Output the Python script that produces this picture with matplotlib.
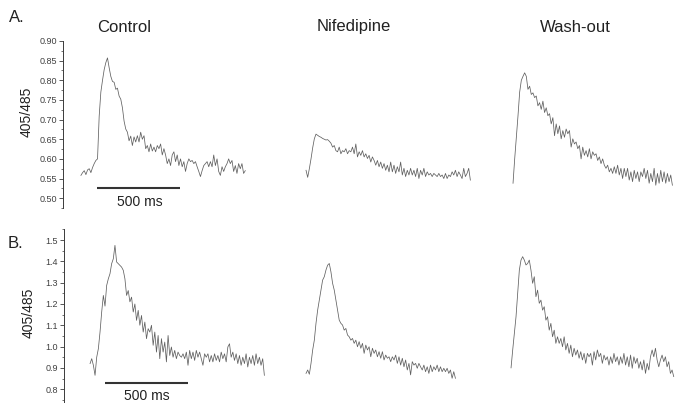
import matplotlib
matplotlib.use("Agg")
import matplotlib.pyplot as plt
import numpy as np
from matplotlib.ticker import FixedLocator, MultipleLocator, FormatStrFormatter

plt.rcParams['font.family'] = ['Liberation Sans', 'DejaVu Sans']

# ---------------- data ----------------
conditions = ["Control", "Nifedipine", "Wash-out"]
row_labels = ["A.", "B."]
ylabel = "405/485"
scale_label = "500 ms"
scale_ms = 500
dt_ms = 10

yticks_A = [0.50, 0.55, 0.60, 0.65, 0.70, 0.75, 0.80, 0.85, 0.90]
yticks_B = [0.8, 0.9, 1.0, 1.1, 1.2, 1.3, 1.4, 1.5]

control_A = [0.558, 0.565, 0.570, 0.560, 0.572, 0.575, 0.565, 0.578, 0.588, 0.596,
             0.600, 0.709, 0.770, 0.800, 0.827, 0.845, 0.857, 0.832, 0.810, 0.797,
             0.795, 0.777, 0.780, 0.760, 0.752, 0.730, 0.696, 0.676, 0.668, 0.646,
             0.658, 0.634, 0.656, 0.643, 0.659, 0.643, 0.668, 0.650, 0.659, 0.626,
             0.634, 0.618, 0.638, 0.620, 0.630, 0.618, 0.634, 0.626, 0.638, 0.610,
             0.626, 0.610, 0.588, 0.600, 0.583, 0.610, 0.618, 0.593, 0.610, 0.583,
             0.600, 0.580, 0.593, 0.568, 0.588, 0.600, 0.593, 0.596, 0.588, 0.593,
             0.580, 0.568, 0.555, 0.570, 0.583, 0.588, 0.593, 0.580, 0.593, 0.580,
             0.610, 0.583, 0.600, 0.568, 0.558, 0.580, 0.568, 0.580, 0.588, 0.600,
             0.588, 0.596, 0.568, 0.583, 0.563, 0.588, 0.575, 0.588, 0.563, 0.570]

nifedipine_A = [0.571, 0.553, 0.575, 0.600, 0.628, 0.651, 0.663, 0.660, 0.657, 0.655,
                0.652, 0.650, 0.648, 0.649, 0.645, 0.640, 0.630, 0.634, 0.621, 0.618,
                0.630, 0.613, 0.621, 0.618, 0.626, 0.613, 0.621, 0.618, 0.630, 0.613,
                0.638, 0.605, 0.618, 0.609, 0.621, 0.605, 0.613, 0.601, 0.609, 0.592,
                0.605, 0.596, 0.584, 0.596, 0.580, 0.592, 0.576, 0.588, 0.571, 0.584,
                0.567, 0.592, 0.567, 0.584, 0.563, 0.580, 0.567, 0.592, 0.559, 0.576,
                0.555, 0.571, 0.559, 0.576, 0.559, 0.571, 0.555, 0.576, 0.550, 0.571,
                0.559, 0.576, 0.555, 0.567, 0.559, 0.563, 0.555, 0.563, 0.559, 0.555,
                0.563, 0.555, 0.559, 0.550, 0.563, 0.550, 0.559, 0.555, 0.567, 0.559,
                0.571, 0.555, 0.567, 0.559, 0.550, 0.576, 0.555, 0.563, 0.576, 0.546]

washout_A = [0.538, 0.600, 0.655, 0.710, 0.770, 0.800, 0.810, 0.819, 0.810, 0.777,
             0.785, 0.764, 0.768, 0.756, 0.760, 0.735, 0.743, 0.726, 0.747, 0.718,
             0.730, 0.710, 0.715, 0.689, 0.705, 0.659, 0.689, 0.664, 0.684, 0.651,
             0.672, 0.655, 0.676, 0.664, 0.672, 0.630, 0.651, 0.638, 0.643, 0.626,
             0.634, 0.600, 0.630, 0.609, 0.621, 0.605, 0.626, 0.600, 0.618, 0.609,
             0.613, 0.596, 0.605, 0.588, 0.600, 0.584, 0.576, 0.584, 0.567, 0.576,
             0.563, 0.580, 0.563, 0.584, 0.559, 0.576, 0.550, 0.576, 0.555, 0.576,
             0.546, 0.567, 0.542, 0.571, 0.550, 0.567, 0.542, 0.567, 0.555, 0.576,
             0.550, 0.571, 0.538, 0.563, 0.542, 0.576, 0.533, 0.563, 0.538, 0.571,
             0.542, 0.567, 0.538, 0.563, 0.542, 0.559, 0.533]

control_B = [0.920, 0.943, 0.912, 0.865, 0.950, 0.990, 1.068, 1.162, 1.240, 1.190,
             1.287, 1.318, 1.342, 1.389, 1.412, 1.475, 1.397, 1.389, 1.381, 1.373,
             1.358, 1.318, 1.240, 1.263, 1.210, 1.232, 1.162, 1.200, 1.123, 1.170,
             1.100, 1.146, 1.068, 1.115, 1.037, 1.084, 1.068, 1.100, 1.006, 1.068,
             0.974, 1.052, 0.943, 1.037, 0.974, 1.021, 0.928, 1.052, 0.958, 0.998,
             0.950, 0.982, 0.943, 0.974, 0.958, 0.950, 0.966, 0.943, 0.974, 0.912,
             0.982, 0.943, 0.974, 0.935, 0.982, 0.950, 0.974, 0.943, 0.912, 0.966,
             0.950, 0.966, 0.928, 0.958, 0.928, 0.966, 0.935, 0.958, 0.928, 0.974,
             0.943, 0.966, 0.928, 0.998, 1.013, 0.950, 0.974, 0.935, 0.966, 0.920,
             0.958, 0.912, 0.950, 0.920, 0.966, 0.904, 0.950, 0.920, 0.958, 0.912,
             0.966, 0.920, 0.950, 0.912, 0.943, 0.865]

nifedipine_B = [0.874, 0.890, 0.870, 0.921, 0.984, 1.030, 1.109, 1.171, 1.218, 1.265,
                1.312, 1.328, 1.359, 1.382, 1.390, 1.351, 1.297, 1.265, 1.218, 1.171,
                1.124, 1.109, 1.101, 1.077, 1.085, 1.054, 1.046, 1.030, 1.038, 1.015,
                1.030, 0.999, 1.023, 0.992, 1.015, 0.968, 1.007, 0.984, 0.999, 0.952,
                0.992, 0.968, 0.984, 0.952, 0.976, 0.945, 0.976, 0.937, 0.960, 0.945,
                0.952, 0.929, 0.952, 0.937, 0.960, 0.921, 0.952, 0.913, 0.945, 0.905,
                0.937, 0.890, 0.921, 0.867, 0.929, 0.913, 0.921, 0.898, 0.921, 0.905,
                0.890, 0.913, 0.882, 0.905, 0.874, 0.913, 0.882, 0.905, 0.890, 0.913,
                0.882, 0.905, 0.882, 0.898, 0.882, 0.898, 0.874, 0.890, 0.851, 0.882,
                0.851]

washout_B = [0.900, 0.984, 1.062, 1.140, 1.250, 1.359, 1.406, 1.422, 1.406, 1.383,
             1.390, 1.406, 1.359, 1.297, 1.328, 1.234, 1.265, 1.203, 1.218, 1.171,
             1.187, 1.124, 1.140, 1.077, 1.109, 1.046, 1.077, 1.015, 1.046, 1.015,
             1.038, 0.999, 1.046, 0.984, 1.015, 0.968, 1.007, 0.952, 0.992, 0.960,
             0.984, 0.945, 0.976, 0.937, 0.968, 0.921, 0.968, 0.952, 0.968, 0.913,
             0.976, 0.937, 0.984, 0.952, 0.968, 0.921, 0.960, 0.937, 0.952, 0.913,
             0.952, 0.921, 0.968, 0.929, 0.952, 0.913, 0.952, 0.921, 0.968, 0.913,
             0.952, 0.905, 0.960, 0.898, 0.952, 0.921, 0.945, 0.898, 0.929, 0.890,
             0.937, 0.874, 0.921, 0.890, 0.952, 0.984, 0.952, 0.992, 0.937, 0.905,
             0.937, 0.960, 0.929, 0.952, 0.905, 0.929, 0.874, 0.890, 0.859]

rows = [
    dict(traces=[control_A, nifedipine_A, washout_A], yticks=yticks_A),
    dict(traces=[control_B, nifedipine_B, washout_B], yticks=yticks_B),
]

# ---------------- layout ----------------
W, H = 676, 403
PX_PER_MS = 83 / 500.0
fig = plt.figure(figsize=(W / 100, H / 100), dpi=100)
fig.patch.set_facecolor("white")

def fx(px):
    return px / W

def fy(py):
    return 1 - py / H

layout = [
    dict(left=63, top=41, bottom=208, ylim=(0.475, 0.90), minor=0.025, fmt="%.2f",
         starts=[108, 1464, 2711], bar=(205, 0.525), bar_text=(140, 202),
         label_xy=(17, 17), ylab_xy=(27, 112)),
    dict(left=64, top=229.4, bottom=403, ylim=(0.735, 1.55), minor=0.05, fmt="%.1f",
         starts=[157, 1458, 2693], bar=(247, 0.829), bar_text=(147, 396),
         label_xy=(15, 243), ylab_xy=(29, 313)),
]

trace_color = "#606060"
axis_color = "#3a3a3a"

for row, lay, rlab in zip(rows, layout, row_labels):
    ax = fig.add_axes([fx(lay["left"]), fy(lay["bottom"]),
                       (W - lay["left"]) / W, (lay["bottom"] - lay["top"]) / H])
    ax.set_xlim(0, (W - lay["left"]) / PX_PER_MS)
    ax.set_ylim(*lay["ylim"])
    ax.patch.set_alpha(0)
    for s in ["top", "right", "bottom"]:
        ax.spines[s].set_visible(False)
    ax.spines["left"].set_color(axis_color)
    ax.spines["left"].set_linewidth(0.7)
    ax.spines["left"].set_bounds(*lay["ylim"])
    ax.set_xticks([])
    ax.yaxis.set_major_locator(FixedLocator(row["yticks"]))
    ax.yaxis.set_minor_locator(MultipleLocator(lay["minor"]))
    ax.yaxis.set_major_formatter(FormatStrFormatter(lay["fmt"]))
    ax.tick_params(axis="y", which="major", direction="out", length=3, width=0.6,
                   colors=axis_color, labelsize=6.5, pad=1.5, labelcolor="#404040")
    ax.tick_params(axis="y", which="minor", direction="out", length=1.5, width=0.5,
                   colors=axis_color)

    for vals, t0 in zip(row["traces"], lay["starts"]):
        t = t0 + dt_ms * np.arange(len(vals))
        ax.plot(t, vals, color=trace_color, lw=0.55, clip_on=False)

    bx, by = lay["bar"]
    ax.plot([bx, bx + scale_ms], [by, by], color="#333333", lw=1.5,
            solid_capstyle="butt", clip_on=False)
    fig.text(fx(lay["bar_text"][0]), fy(lay["bar_text"][1]), scale_label,
             ha="center", va="center", fontsize=10, color="#222222")
    fig.text(fx(lay["label_xy"][0]), fy(lay["label_xy"][1]), rlab,
             ha="center", va="center", fontsize=12, color="#222222")
    fig.text(fx(lay["ylab_xy"][0]), fy(lay["ylab_xy"][1]), ylabel, rotation=90,
             ha="center", va="center", fontsize=10, color="#222222")

for name, cx in zip(conditions, [124, 354, 575]):
    fig.text(fx(cx), fy(27), name, ha="center", va="center", fontsize=12,
             color="#222222")

fig.savefig("out.png", dpi=100, facecolor="white")
